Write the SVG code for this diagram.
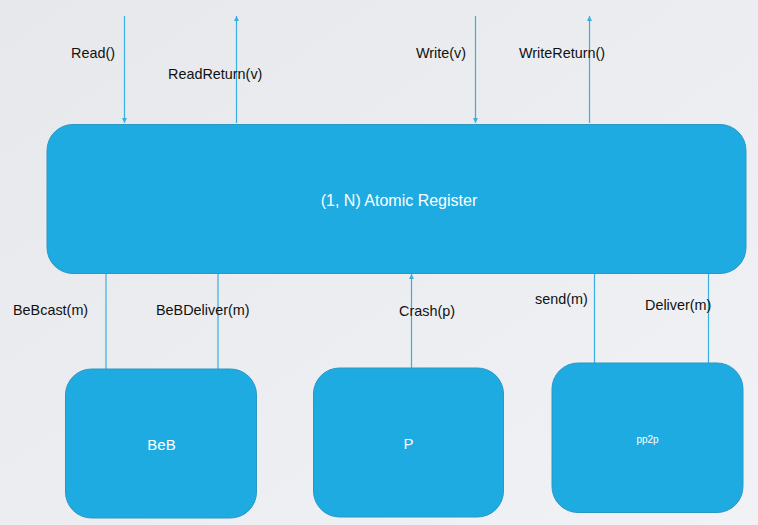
<svg xmlns="http://www.w3.org/2000/svg" width="758" height="525" viewBox="0 0 758 525">
<defs>
<linearGradient id="bg" x1="0" y1="0" x2="1" y2="1">
<stop offset="0" stop-color="#e6e8ec"/>
<stop offset="1" stop-color="#f1f2f6"/>
</linearGradient>
<marker id="ah" markerWidth="6" markerHeight="6" refX="5" refY="3" orient="auto" markerUnits="userSpaceOnUse">
<path d="M0,0.5 L5,3 L0,5.5 Z" fill="#3aaee0"/>
</marker>
</defs>
<style>
.box{fill:#1eabe2;stroke:#2b98c4;stroke-width:1}
.ln{stroke:#3aaee0;stroke-width:1.2;fill:none}
.lbl{font-family:"Liberation Sans",Arial,sans-serif;font-size:14.4px;fill:#111}
.nt{font-family:"Liberation Sans",Arial,sans-serif;fill:#ffffff;text-anchor:middle}
</style>
<rect x="0" y="0" width="758" height="525" fill="url(#bg)"/>
<g id="connectors">
<line class="ln" x1="124.5" y1="16" x2="124.5" y2="123" marker-end="url(#ah)"/>
<line class="ln" x1="236.5" y1="123" x2="236.5" y2="16" marker-end="url(#ah)"/>
<line class="ln" x1="475.5" y1="16" x2="475.5" y2="123" marker-end="url(#ah)"/>
<line class="ln" x1="589.5" y1="123" x2="589.5" y2="16" marker-end="url(#ah)"/>
<line class="ln" x1="106" y1="274" x2="106" y2="369"/>
<line class="ln" x1="218" y1="274" x2="218" y2="369"/>
<line class="ln" x1="411.5" y1="368" x2="411.5" y2="274" marker-end="url(#ah)"/>
<line class="ln" x1="594.5" y1="274" x2="594.5" y2="363"/>
<line class="ln" x1="708.5" y1="274" x2="708.5" y2="363"/>
<text class="lbl" x="71" y="58">Read()</text>
<text class="lbl" x="168" y="79">ReadReturn(v)</text>
<text class="lbl" x="416" y="58">Write(v)</text>
<text class="lbl" x="519" y="58">WriteReturn()</text>
<text class="lbl" x="13" y="315">BeBcast(m)</text>
<text class="lbl" x="156" y="315">BeBDeliver(m)</text>
<text class="lbl" x="399" y="316">Crash(p)</text>
<text class="lbl" x="535" y="304">send(m)</text>
<text class="lbl" x="645" y="310">Deliver(m)</text>
</g>
<g id="register">
<rect class="box" x="47" y="124.5" width="699" height="149" rx="26" ry="26"/>
<text class="nt" x="399" y="206" font-size="16">(1, N) Atomic Register</text>
</g>
<g id="beb">
<rect class="box" x="65.5" y="369" width="191" height="149" rx="26" ry="26"/>
<text class="nt" x="161.5" y="450" font-size="15">BeB</text>
</g>
<g id="p">
<rect class="box" x="313.5" y="368" width="190" height="149" rx="26" ry="26"/>
<text class="nt" x="408.5" y="449" font-size="15">P</text>
</g>
<g id="pp2p">
<rect class="box" x="552" y="363" width="191" height="149.5" rx="26" ry="26"/>
<text class="nt" x="647.5" y="443" font-size="10">pp2p</text>
</g>
</svg>
